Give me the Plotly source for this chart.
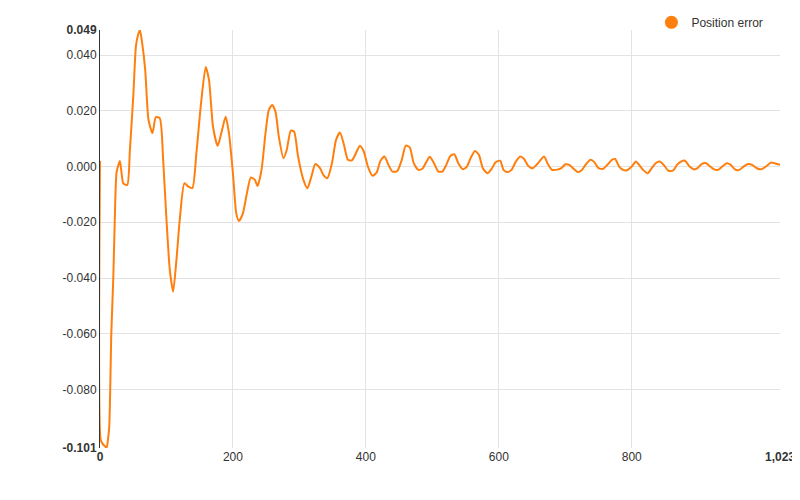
import plotly.graph_objects as go

series_name = "Position error"

sample_index = [
    0, 1, 4, 8, 10, 12, 14, 17, 20, 23, 25, 30, 35, 41, 45, 50, 54, 57, 60, 63,
    68, 73, 79, 84, 90, 95, 100, 105, 110, 115, 120, 127, 133, 139, 145, 152, 159, 164,
    170, 177, 183, 189, 194, 200, 205, 209, 215, 221, 227, 233, 237, 243, 249, 254,
    259, 264, 269, 276, 281, 287, 292, 298, 306, 312, 318, 324, 331, 336, 342, 349,
    355, 361, 367, 373, 379, 385, 391, 397, 403, 410, 416, 422, 428, 434, 440, 447,
    454, 460, 466, 472, 479, 485, 492, 496, 502, 509, 515, 521, 527, 533, 539, 546,
    552, 557, 564, 570, 576, 583, 589, 595, 602, 607, 613, 619, 625, 632, 638, 644,
    651, 660, 668, 674, 680, 688, 694, 700, 706, 713, 719, 725, 731, 738, 744, 750,
    757, 764, 770, 775, 781, 787, 793, 800, 806, 811, 817, 824, 830, 836, 842, 848,
    855, 862, 868, 874, 880, 887, 893, 899, 905, 912, 918, 924, 930, 937, 943, 949,
    955, 962, 968, 975, 981, 988, 995, 1003, 1009, 1015, 1023,
]

position_error = [
    0.002, -0.098, -0.0995, -0.1005, -0.101, -0.098, -0.093, -0.060, -0.040, -0.012,
    -0.002, 0.002, -0.006, -0.0066, 0.006, 0.025, 0.043, 0.047, 0.049, 0.045,
    0.0347, 0.0167, 0.012, 0.0177, 0.0173, 0.0024, -0.019, -0.037, -0.0449, -0.0335,
    -0.019, -0.006, -0.0072, -0.0077, 0.0048, 0.0227, 0.0357, 0.031,
    0.0143, 0.0074, 0.0125, 0.0179, 0.012, -0.0024, -0.0168, -0.0195, -0.0168, -0.0096,
    -0.0039, -0.0048, -0.007, -0.0012, 0.012, 0.0203,
    0.0221, 0.0197, 0.0107, 0.003, 0.006, 0.0129, 0.0125, 0.0036, -0.0048, -0.0078,
    -0.0036, 0.0009, -0.0006, -0.003, -0.0042, 0.0012,
    0.0095, 0.0122, 0.0078, 0.0024, 0.0022, 0.0048, 0.0075, 0.0053, 0.0, -0.0033,
    -0.0022, 0.0021, 0.0036, 0.0006, -0.0018, -0.0017,
    0.0024, 0.0075, 0.0069, 0.0012, -0.0012, -0.0008, 0.0021, 0.0035, 0.0014, -0.0018,
    -0.0018, 0.0006, 0.0038, 0.0044, 0.0012, -0.001,
    0.0, 0.0027, 0.0056, 0.0042, -0.0006, -0.0024, -0.0009, 0.0015, 0.0021, -0.0012,
    -0.002, -0.0012, 0.0015, 0.0036, 0.0027, 0.0003,
    -0.0006, 0.0015, 0.0036, 0.0008, -0.0012, -0.0011, -0.0006, 0.0008, 0.0006, -0.0009,
    -0.002, -0.0012, 0.0008, 0.0024, 0.0015, -0.0006,
    -0.0008, 0.0008, 0.0024, 0.0027, 0.0, -0.0012, -0.0013, 0.0, 0.0018, 0.0006,
    -0.0012, -0.0024, -0.0006, 0.0012, 0.0018, 0.0006,
    -0.0015, -0.0015, 0.0006, 0.0018, 0.0021, 0.0, -0.001, -0.0006, 0.0009, 0.0012,
    0.0, -0.001, -0.0012, 0.0002, 0.0012, 0.0006,
    -0.001, -0.0012, 0.0, 0.0009, 0.0006, -0.0006, -0.001, 0.0002, 0.0014, 0.0012, 0.0006,
]

y_tick_vals = [-0.101, -0.08, -0.06, -0.04, -0.02, 0.0, 0.02, 0.04, 0.049]
y_tick_text = ["<b>-0.101</b>", "-0.080", "-0.060", "-0.040", "-0.020", "0.000",
               "0.020", "0.040", "<b>0.049</b>"]
y_grid_vals = [-0.101, -0.08, -0.06, -0.04, -0.02, 0.0, 0.02, 0.04]

x_tick_vals = [0, 200, 400, 600, 800, 1023]
x_tick_text = ["<b>0</b>", "200", "400", "600", "800", "<b>1,023</b>"]
x_grid_vals = [200, 400, 600, 800]

color = "#ff7f0e"
grid_color = "#e3e3e3"
font_color = "#333333"

fig = go.Figure()
fig.add_trace(go.Scatter(
    x=sample_index, y=position_error, mode="lines",
    line=dict(color=color, width=2, shape="spline", smoothing=0.6),
    showlegend=False, hoverinfo="x+y",
))
fig.add_trace(go.Scatter(
    x=[None], y=[None], mode="markers", name=series_name,
    marker=dict(color=color, size=13, symbol="circle"),
))

# page body has an 8px margin, so the figure is 792x492 and placed from (8, 8)
fig.update_layout(
    width=792, height=492,
    margin=dict(l=92, r=20, t=22, b=52, autoexpand=False),
    paper_bgcolor="white", plot_bgcolor="white",
    font=dict(family="Liberation Sans, Arial, sans-serif", size=12, color=font_color),
    legend=dict(x=0.983, xanchor="right", y=1.053, yanchor="top",
                font=dict(size=12, color=font_color), itemwidth=30,
                bgcolor="rgba(0,0,0,0)"),
)
fig.update_xaxes(
    range=[0, 1023], tickvals=x_tick_vals, ticktext=x_tick_text, automargin=False,
    showgrid=False, zeroline=False, showline=False, ticks="",
    minor=dict(tickvals=x_grid_vals, showgrid=True, gridcolor=grid_color, gridwidth=1),
)
fig.update_yaxes(
    range=[-0.101, 0.049], tickvals=y_tick_vals, ticktext=y_tick_text, automargin=False,
    showgrid=False, zeroline=False, showline=True, linecolor="#333333", linewidth=1,
    ticks="", ticklabelstandoff=0,
    minor=dict(tickvals=y_grid_vals, showgrid=True, gridcolor=grid_color, gridwidth=1),
)

fig.write_html("out.html")
